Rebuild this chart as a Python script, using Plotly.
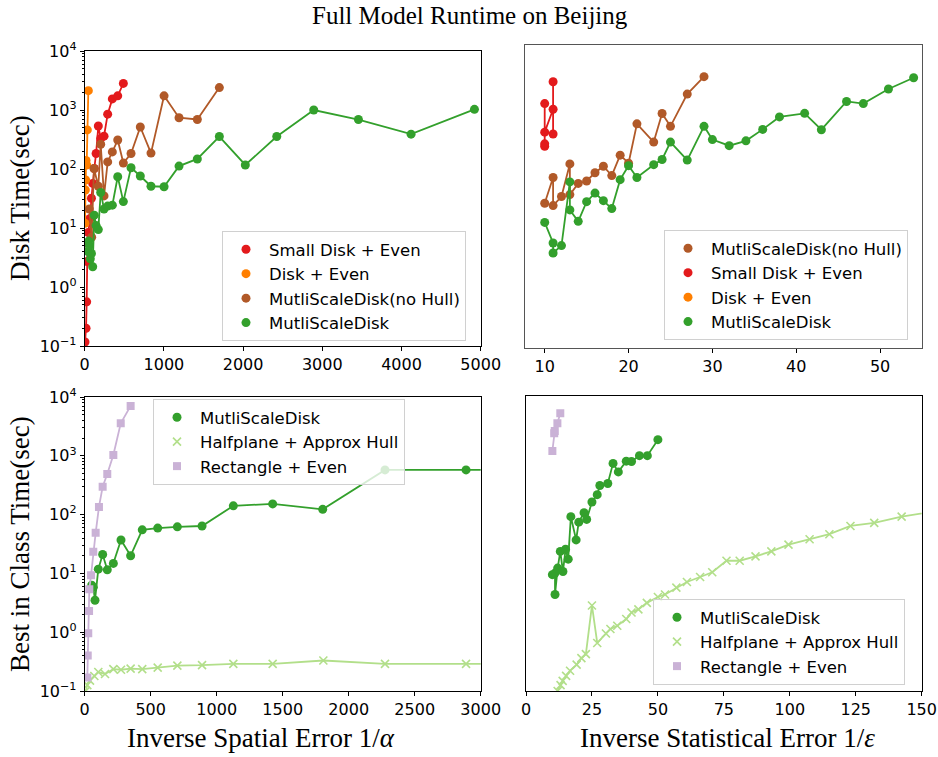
import plotly.graph_objects as go

W, H = 938, 757

# ---------------- DATA ----------------
# Top-left: Disk time vs inverse spatial error (1/alpha)
small_disk_alpha_x = [4, 17, 25, 30, 35, 46, 67, 85, 101, 121, 144, 172, 202, 244, 290, 349, 417, 488]
small_disk_alpha_y = [0.117, 0.2, 0.56, 2.7, 5.5, 8.4, 14.5, 32, 57, 102, 183, 535, 330, 360, 850, 1540, 1740, 2820]

disk_even_alpha_x = [4, 8, 12, 17, 25, 33, 46]
disk_even_alpha_y = [12, 44, 65, 140, 117, 460, 2130]

msd_nohull_alpha_x = [58, 88, 117, 172, 202, 244, 290, 349, 417, 488, 585, 702, 837, 1002, 1191, 1422, 1700]
msd_nohull_alpha_y = [21, 7, 102, 51, 263, 35, 132, 195, 310, 126, 183, 515, 186, 1740, 740, 690, 2400]

msd_alpha_x = [42, 50, 60, 71, 85, 101, 121, 144, 172, 202, 244, 290, 349, 417, 488, 585, 702, 837,
               1002, 1191, 1422, 1700, 2028, 2425, 2892, 3456, 4121, 4921]
msd_alpha_y = [4.0, 6.0, 5.0, 3.0, 3.7, 2.2, 16.5, 11, 9.4, 40, 21, 23.5, 24.4, 74, 28, 105, 76, 51,
               50, 112, 148, 355, 117, 355, 1000, 690, 390, 1025]

# Top-right: Disk time vs inverse statistical error (1/eps)
msd_nohull_eps_x = [10, 11, 11, 12, 13, 13, 14, 15, 16, 17, 18, 19, 20, 21, 23, 24, 25, 27, 29]
msd_nohull_eps_y = [24.5, 65, 22.4, 31.6, 109, 34, 52, 57, 78, 100, 70, 152, 112, 500, 250, 740, 455, 1550, 3000]

small_disk_eps_x = [10, 10, 10, 10, 11, 11, 11]
small_disk_eps_y = [213, 234, 1080, 365, 870, 340, 2470]

disk_even_eps_x = [None]   # no measurements inside the plotted range
disk_even_eps_y = [None]

msd_eps_x = [10, 11, 11, 12, 13, 13, 14, 15, 16, 17, 18, 19, 20, 21, 23, 24, 25, 27, 29, 30, 32, 34,
             36, 38, 41, 43, 46, 48, 51, 54]
msd_eps_y = [11.8, 5.4, 3.7, 4.9, 55, 19, 12.3, 26, 36, 27, 20, 60, 102, 65, 106, 129, 250, 126, 455, 275,
             218, 262, 405, 650, 745, 400, 1170, 1080, 1880, 2880]

# Bottom-left: best in class vs inverse spatial error
best_msd_alpha_x = [53, 65, 78, 103, 136, 171, 217, 275, 348, 436, 553, 702, 889, 1126, 1424, 1803, 2275, 2889, 3456]
best_msd_alpha_y = [6.3, 5.8, 3.5, 11.8, 21, 11.5, 14.8, 37, 20, 55, 59, 62, 64, 141, 152, 123, 575, 575, 575]

halfplane_alpha_x = [8, 20, 40, 73, 103, 154, 217, 275, 348, 436, 553, 702, 889, 1126, 1424, 1808, 2275, 2889, 3456]
halfplane_alpha_y = [0.1, 0.126, 0.15, 0.18, 0.21, 0.195, 0.235, 0.23, 0.24, 0.235, 0.25, 0.27, 0.275, 0.29,
                     0.29, 0.33, 0.29, 0.29, 0.29]

rect_alpha_x = [20, 23, 27, 33, 35, 48, 65, 83, 108, 136, 171, 217, 273, 348]
rect_alpha_y = [0.17, 0.40, 0.96, 2.3, 5.4, 9.3, 23.4, 49, 135, 297, 490, 1030, 3560, 7050]

# Bottom-right: best in class vs inverse statistical error
best_msd_eps_x = [10, 11, 11, 12, 13, 14, 15, 16, 17, 19, 20, 22, 23, 25, 27, 28, 31, 33, 35, 38, 40, 43, 46, 50]
best_msd_eps_y = [9.3, 9.9, 4.3, 12, 23, 10.5, 25, 17, 89, 36, 72, 104, 80, 158, 210, 300, 325, 710, 510,
                  775, 765, 960, 960, 1790]

halfplane_eps_x = [12, 13.1, 13.9, 15.2, 16.7, 19.2, 21, 22.7, 25, 27, 30.3, 32, 34.6, 38, 40, 42.6, 45.8,
                   50, 52.7, 57, 61, 66, 70.6, 76, 81, 87, 93, 99.5, 107.5, 115, 123, 132, 142.4, 160]
halfplane_eps_y = [0.1, 0.126, 0.148, 0.18, 0.22, 0.28, 0.36, 0.42, 2.8, 0.65, 0.94, 1.12, 1.27, 1.65, 2.13,
                   2.4, 3.1, 3.9, 4.3, 5.6, 7.0, 8.5, 10.2, 16, 16, 19, 23, 30, 37, 45, 62, 70, 89, 120]

rect_eps_x = [10, 10.7, 10.9, 11.9, 13]
rect_eps_y = [1150, 2290, 2500, 3400, 5000]

# tick labels
log_tickvals = [0.1, 1, 10, 100, 1000, 10000]
log_ticktext = ["10<sup>\u22121</sup>", "10<sup>0</sup>", "10<sup>1</sup>", "10<sup>2</sup>",
                "10<sup>3</sup>", "10<sup>4</sup>"]
log_minor_vals = [k * 10.0 ** e for e in range(-1, 4) for k in range(2, 10)]

# colours (matplotlib "Paired")
RED, ORANGE, BROWN, GREEN = "#e31a1c", "#ff7f00", "#b15928", "#33a02c"
LGREEN, LAV = "#b2df8a", "#cab2d6"

# ---------------- LAYOUT HELPERS ----------------
def dom_x(p0, p1):
    return [p0 / W, p1 / W]

def dom_y(top, bottom):
    return [1 - bottom / H, 1 - top / H]

TICKFONT = dict(family="DejaVu Sans", size=16, color="black")

def x_axis(domain, anchor, rng, dtick, linecolor="black"):
    return dict(domain=domain, anchor=anchor, range=rng, dtick=dtick, tick0=0,
                showline=True, mirror=True, linecolor=linecolor, linewidth=1,
                ticks="outside", ticklen=4, tickcolor="black", tickwidth=1,
                showgrid=False, zeroline=False, tickfont=TICKFONT, automargin=False)

def y_axis(domain, anchor, labels=True, linecolor="black"):
    d = dict(domain=domain, anchor=anchor, type="log", range=[-1, 4],
             showline=True, mirror=True, linecolor=linecolor, linewidth=1,
             showgrid=False, zeroline=False, tickfont=TICKFONT, automargin=False)
    if labels:
        d.update(tickvals=log_tickvals, ticktext=log_ticktext, ticks="outside", ticklen=4,
                 tickcolor="black", tickwidth=1,
                 minor=dict(ticks="outside", ticklen=2, tickvals=log_minor_vals,
                            tickcolor="black", tickwidth=0.8, showgrid=False))
    else:
        d.update(showticklabels=False, ticks="")
    return d

fig = go.Figure()

def add_series(x, y, color, name, xa, ya, legend, rank, symbol="circle", size=9):
    fig.add_trace(go.Scatter(x=x, y=y, mode="lines", line=dict(color=color, width=1.8),
                             xaxis=xa, yaxis=ya, showlegend=False, hoverinfo="skip"))
    mk = dict(color=color, size=size, symbol=symbol)
    if symbol == "x-thin":
        mk["line"] = dict(color=color, width=1.6)
        mk["size"] = 8
    else:
        mk["line"] = dict(width=0)
    fig.add_trace(go.Scatter(x=x, y=y, mode="markers", marker=mk, name=name,
                             xaxis=xa, yaxis=ya, legend=legend, legendrank=rank))

# Top-left
add_series(small_disk_alpha_x, small_disk_alpha_y, RED, "Small Disk + Even", "x", "y", "legend", 1)
add_series(disk_even_alpha_x, disk_even_alpha_y, ORANGE, "Disk + Even", "x", "y", "legend", 2)
add_series(msd_nohull_alpha_x, msd_nohull_alpha_y, BROWN, "MutliScaleDisk(no Hull)", "x", "y", "legend", 3)
add_series(msd_alpha_x, msd_alpha_y, GREEN, "MutliScaleDisk", "x", "y", "legend", 4)

# Top-right
add_series(msd_nohull_eps_x, msd_nohull_eps_y, BROWN, "MutliScaleDisk(no Hull)", "x2", "y2", "legend2", 1)
add_series(small_disk_eps_x, small_disk_eps_y, RED, "Small Disk + Even", "x2", "y2", "legend2", 2)
add_series(disk_even_eps_x, disk_even_eps_y, ORANGE, "Disk + Even", "x2", "y2", "legend2", 3)
add_series(msd_eps_x, msd_eps_y, GREEN, "MutliScaleDisk", "x2", "y2", "legend2", 4)

# Bottom-left
add_series(best_msd_alpha_x, best_msd_alpha_y, GREEN, "MutliScaleDisk", "x3", "y3", "legend3", 1)
add_series(halfplane_alpha_x, halfplane_alpha_y, LGREEN, "Halfplane + Approx Hull", "x3", "y3", "legend3", 2, symbol="x-thin")
add_series(rect_alpha_x, rect_alpha_y, LAV, "Rectangle + Even", "x3", "y3", "legend3", 3, symbol="square", size=8)

# Bottom-right
add_series(best_msd_eps_x, best_msd_eps_y, GREEN, "MutliScaleDisk", "x4", "y4", "legend4", 1)
add_series(halfplane_eps_x, halfplane_eps_y, LGREEN, "Halfplane + Approx Hull", "x4", "y4", "legend4", 2, symbol="x-thin")
add_series(rect_eps_x, rect_eps_y, LAV, "Rectangle + Even", "x4", "y4", "legend4", 3, symbol="square", size=8)

TL_X, TL_Y = dom_x(84.7, 480.7), dom_y(51, 346)
TR_X, TR_Y = dom_x(525, 922), dom_y(45, 348)
BL_X, BL_Y = dom_x(84.7, 480.7), dom_y(397, 691)
BR_X, BR_Y = dom_x(526, 921.7), dom_y(395.5, 691)

def legend_at(px, py):
    return dict(x=px / W, y=1 - py / H, xanchor="left", yanchor="top",
                bgcolor="rgba(255,255,255,0.8)", bordercolor="#d0d0d0", borderwidth=1,
                font=dict(family="DejaVu Sans", size=16.5, color="black"),
                itemwidth=36, traceorder="normal")

fig.update_layout(
    width=W, height=H, margin=dict(l=0, r=0, t=0, b=0),
    paper_bgcolor="white", plot_bgcolor="white",
    xaxis=x_axis(TL_X, "y", [0, 5000], 1000),
    yaxis=y_axis(TL_Y, "x"),
    xaxis2=x_axis(TR_X, "y2", [7.65, 55.0], 10, linecolor="#555555"),
    yaxis2=y_axis(TR_Y, "x2", labels=False, linecolor="#555555"),
    xaxis3=x_axis(BL_X, "y3", [0, 3000], 500),
    yaxis3=y_axis(BL_Y, "x3"),
    xaxis4=x_axis(BR_X, "y4", [0, 150], 25),
    yaxis4=y_axis(BR_Y, "x4", labels=False),
    legend=legend_at(222, 231),
    legend2=legend_at(664, 230),
    legend3=legend_at(153, 399),
    legend4=legend_at(653, 599),
    showlegend=True,
)

SERIF = "Liberation Serif"
annos = [
    dict(text="Full Model Runtime on Beijing", x=470 / W, y=1 - 15 / H, size=25, angle=0),
    dict(text="Disk Time(sec)", x=20 / W, y=1 - 198 / H, size=27, angle=-90),
    dict(text="Best in Class Time(sec)", x=20 / W, y=1 - 544 / H, size=27, angle=-90),
    dict(text="Inverse Spatial Error 1/<i>\u03b1</i>", x=261 / W, y=1 - 738 / H, size=27, angle=0),
    dict(text="Inverse Statistical Error 1/<i>\u03b5</i>", x=727 / W, y=1 - 738 / H, size=27, angle=0),
]
for a in annos:
    fig.add_annotation(text=a["text"], x=a["x"], y=a["y"], xref="paper", yref="paper",
                       xanchor="center", yanchor="middle", showarrow=False, textangle=a["angle"],
                       font=dict(family=SERIF, size=a["size"], color="black"))

fig.write_html("out.html")
